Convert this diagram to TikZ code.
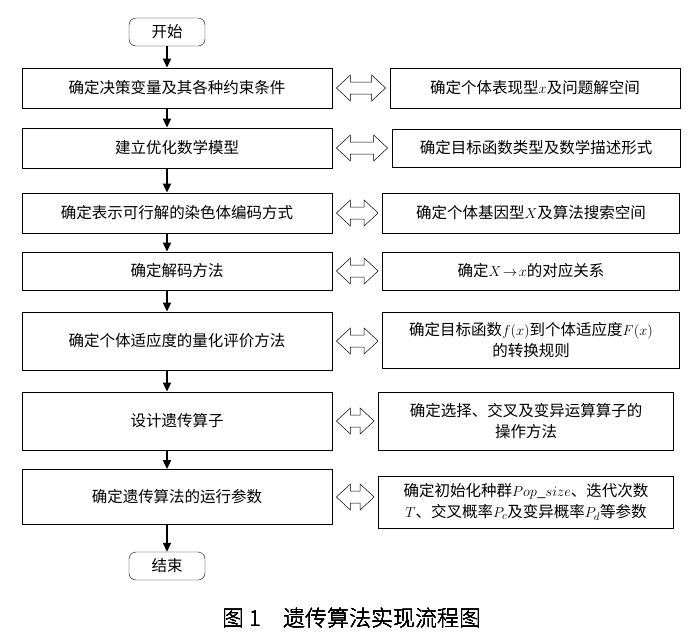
\documentclass[tikz,border=0pt]{standalone}
\usepackage{fontspec}
\setmainfont{Liberation Serif}
\newfontfamily\cjk{Noto Sans CJK SC}
\newfontfamily\cjkl{Noto Sans CJK SC Light}
\usetikzlibrary{calc,arrows.meta}
\begin{document}
\begin{tikzpicture}[x=1pt,y=-1pt,
  box/.style={draw,thick,rectangle,inner sep=2pt,font=\cjk\fontsize{15.5}{21}\selectfont,align=center},
  term/.style={draw,rounded corners=7pt,inner sep=2pt,font=\cjk\fontsize{15.5}{18}\selectfont,minimum width=76pt,minimum height=28pt},
  flow/.style={-{Triangle[length=9pt,width=8pt]},line width=1.8pt},
  dbl/.style={draw,line width=0.5pt,fill=white}]
\useasboundingbox (0,0) rectangle (697,638);
\newcommand\dblarr[2]{%
  \path let \p1=(#1.east),\p2=(#2.west) in
   [dbl] (\x1+4,\y1) -- (\x1+18,\y1-13) -- (\x1+18,\y1-6) -- (\x2-18,\y1-6) -- (\x2-18,\y1-13)
   -- (\x2-4,\y1) -- (\x2-18,\y1+13) -- (\x2-18,\y1+6) -- (\x1+18,\y1+6) -- (\x1+18,\y1+13) -- cycle;}
\node[term] (s) at (167,32) {开始};
\node[box,minimum width=310pt,minimum height=40pt] (l1) at (177,88) {确定决策变量及其各种约束条件};
\node[box,minimum width=310pt,minimum height=40pt] (l2) at (177,148) {建立优化数学模型};
\node[box,minimum width=310pt,minimum height=40pt] (l3) at (177,213) {确定表示可行解的染色体编码方式};
\node[box,minimum width=310pt,minimum height=38pt] (l4) at (177,271) {确定解码方法};
\node[box,minimum width=310pt,minimum height=58pt] (l5) at (177,341) {确定个体适应度的量化评价方法};
\node[box,minimum width=310pt,minimum height=58pt] (l6) at (177,421) {设计遗传算子};
\node[box,minimum width=310pt,minimum height=55pt] (l7) at (177,497) {确定遗传算法的运行参数};
\node[term] (e) at (167,566) {结束};
\node[box,minimum width=290pt,minimum height=40pt] (r1) at (535,88) {确定个体表现型$x$及问题解空间};
\node[box,minimum width=288pt,minimum height=38pt] (r2) at (536,148) {确定目标函数类型及数学描述形式};
\node[box,minimum width=297pt,minimum height=40pt] (r3) at (531,213) {确定个体基因型$X$及算法搜索空间};
\node[box,minimum width=297pt,minimum height=38pt] (r4) at (531,271) {确定$X\!\to\! x$的对应关系};
\node[box,minimum width=297pt,minimum height=56pt] (r5) at (531,340) {确定目标函数$f(x)$到个体适应度$F(x)$\\的转换规则};
\node[box,minimum width=295pt,minimum height=58pt] (r6) at (526,421) {确定选择、交叉及变异运算算子的\\操作方法};
\node[box,minimum width=295pt,minimum height=52pt] (r7) at (526,502) {确定初始化种群$Pop\_size$、迭代次数\\$T$、交叉概率$P_c$及变异概率$P_d$等参数};
\draw[flow] (s.south) -- (s.south |- l1.north);
\foreach \a/\b in {l1/l2,l2/l3,l3/l4,l4/l5,l5/l6,l6/l7} \draw[flow] (s.south |- \a.south) -- (s.south |- \b.north);
\draw[flow] (s.south |- l7.south) -- (e.north);
\foreach \i in {1,...,7} \dblarr{l\i}{r\i}
\node[font=\cjkl\fontsize{22}{24}\selectfont] (cap) at (352,618) {图 1\quad 遗传算法实现流程图};
\end{tikzpicture}
\end{document}
